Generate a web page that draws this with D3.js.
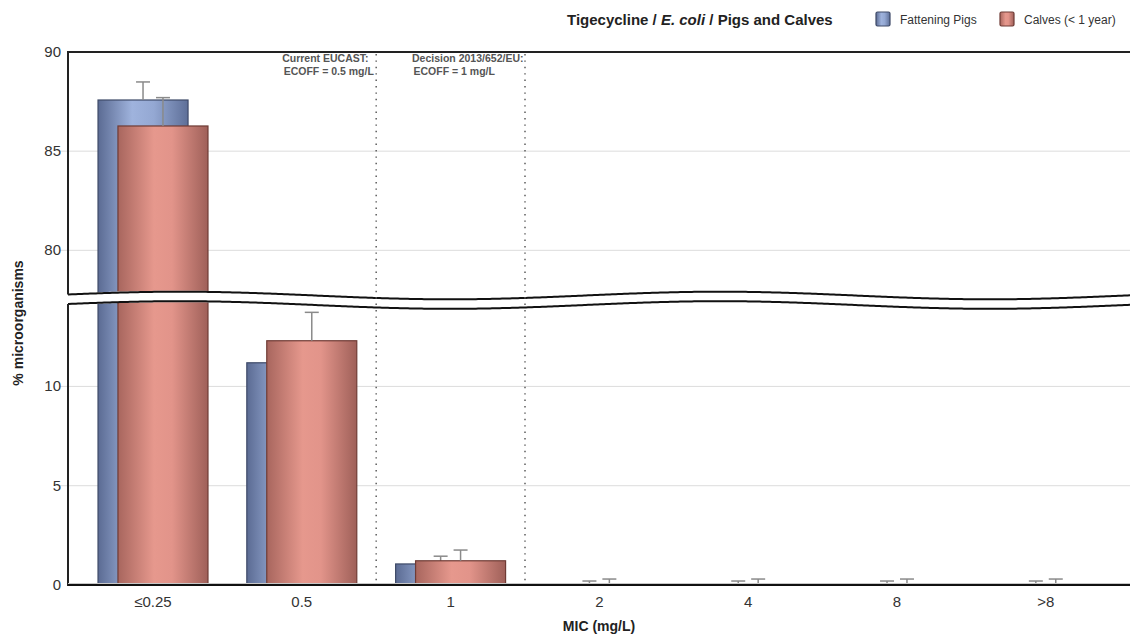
<!DOCTYPE html>
<html><head><meta charset="utf-8">
<script src="https://cdn.jsdelivr.net/npm/d3@7"></script>
<style>body{margin:0;background:#fff;} svg{display:block;font-family:"Liberation Sans",Arial,sans-serif;}</style>
</head><body><svg id="c" width="1130" height="637"></svg>
<script>
// ---- data ----
const categories = ["≤0.25", "0.5", "1", "2", "4", "8", ">8"];
const pigs = [87.58, 11.19, 1.06, 0.05, 0.05, 0.05, 0.05];
const pigsErrTop = [88.49, 11.9, 1.45, 0.2, 0.2, 0.2, 0.2];
const calves = [86.27, 12.30, 1.22, 0.05, 0.05, 0.05, 0.05];
const calvesErrTop = [87.70, 13.73, 1.76, 0.3, 0.3, 0.3, 0.3];
const upperTicks = [80, 85, 90];
const lowerTicks = [0, 5, 10];
const upperDomain = [78, 90];
const lowerDomain = [0, 14.1];
const seriesNames = ["Fattening Pigs", "Calves (< 1 year)"];
const ecoffAfter = ["0.5", "1"];
const ecoffText = [["Current EUCAST:", "ECOFF = 0.5 mg/L"], ["Decision 2013/652/EU:", "ECOFF = 1 mg/L"]];
const titleParts = [["Tigecycline / ", "normal"], ["E. coli", "italic"], [" / Pigs and Calves", "normal"]];
const xTitle = "MIC (mg/L)";
const yTitle = "% microorganisms";

// ---- layout ----
const svg = d3.select("#c");
const L = 68, R = 1130, T = 52, B = 585;
const x = d3.scaleBand().domain(categories).range([78.6, 1120.2]).paddingInner(0).paddingOuter(0);
const yU = d3.scaleLinear().domain(upperDomain).range([290, T]);
const yL = d3.scaleLinear().domain(lowerDomain).range([B, 305]);
const bw = x.bandwidth();
const barW = bw * 0.605, off = bw * 0.067;
const yv = v => v > lowerDomain[1] ? yU(v) : yL(v);

const defs = svg.append("defs");
function grad(id, stops) {
  const g = defs.append("linearGradient").attr("id", id).attr("x1", 0).attr("x2", 1).attr("y1", 0).attr("y2", 0);
  stops.forEach(s => g.append("stop").attr("offset", s[0]).attr("stop-color", s[1]));
}
grad("gPig", [[0, "#5b6b93"], [0.38, "#9fb3dd"], [0.62, "#94a8d3"], [1, "#5e6f98"]]);
grad("gCalf", [[0, "#a8665e"], [0.4, "#e6988d"], [0.6, "#e2948a"], [1, "#9f6059"]]);
const fills = ["url(#gPig)", "url(#gCalf)"], strokes = ["#3e4a68", "#6f3b35"];

// gridlines + short ticks
const grid = svg.append("g");
upperTicks.filter(t => t < 90).forEach(t => grid.append("line").attr("x1", 60).attr("x2", R).attr("y1", yU(t)).attr("y2", yU(t)).attr("stroke", "#dcdcdc"));
lowerTicks.filter(t => t > 0).forEach(t => grid.append("line").attr("x1", 60).attr("x2", R).attr("y1", yL(t)).attr("y2", yL(t)).attr("stroke", "#dcdcdc"));

// tick labels
const tl = svg.append("g").attr("font-size", 15).attr("fill", "#333").attr("text-anchor", "end");
upperTicks.forEach(t => tl.append("text").attr("x", 61).attr("y", yU(t) + 5).text(t));
lowerTicks.forEach(t => tl.append("text").attr("x", 61).attr("y", yL(t) + 5).text(t));

// bars
const series = [[pigs, pigsErrTop, -off], [calves, calvesErrTop, off]];
series.forEach((s, si) => {
  const [vals, errs, o] = s;
  const g = svg.append("g");
  categories.forEach((c, i) => {
    const cx = x(c) + bw / 2 + o;
    const top = yv(vals[i]);
    g.append("rect").attr("x", cx - barW / 2).attr("y", top).attr("width", barW).attr("height", Math.max(0.5, yL(0) - top))
      .attr("fill", fills[si]).attr("stroke", strokes[si]).attr("stroke-width", 1.2);
    const et = yv(errs[i]);
    g.append("line").attr("x1", cx).attr("x2", cx).attr("y1", top).attr("y2", et).attr("stroke", "#8a8a8a").attr("stroke-width", 1.5);
    g.append("line").attr("x1", cx - 7).attr("x2", cx + 7).attr("y1", et).attr("y2", et).attr("stroke", "#8a8a8a").attr("stroke-width", 1.5);
  });
});

// axis break
const wave = xx => 295.5 - 3.8 * Math.cos(2 * Math.PI * (xx - 180) / 540);
const gap = 9.5;
const xs = d3.range(L, R + 1, 4).concat([R]);
const band = d3.area().x(d => d).y0(d => wave(d) - 1).y1(d => wave(d) + gap + 1).curve(d3.curveBasis);
svg.append("path").datum(xs).attr("d", band).attr("fill", "#fff");
const wl = d3.line().x(d => d).curve(d3.curveBasis);
svg.append("path").datum(xs).attr("d", wl.y(d => wave(d))).attr("fill", "none").attr("stroke", "#111").attr("stroke-width", 2);
svg.append("path").datum(xs).attr("d", d3.line().x(d => d).y(d => wave(d) + gap).curve(d3.curveBasis)).attr("fill", "none").attr("stroke", "#111").attr("stroke-width", 2);

// frame
svg.append("line").attr("x1", L).attr("x2", R).attr("y1", T).attr("y2", T).attr("stroke", "#222").attr("stroke-width", 2);
svg.append("line").attr("x1", L).attr("x2", L).attr("y1", T - 1).attr("y2", wave(L)).attr("stroke", "#222").attr("stroke-width", 2);
svg.append("line").attr("x1", L).attr("x2", L).attr("y1", wave(L) + gap).attr("y2", B + 1).attr("stroke", "#222").attr("stroke-width", 2);
svg.append("line").attr("x1", L).attr("x2", R).attr("y1", B - 1.5).attr("y2", B - 1.5).attr("stroke", "#c8c8c8").attr("stroke-width", 1);
svg.append("line").attr("x1", L).attr("x2", R).attr("y1", B).attr("y2", B).attr("stroke", "#111").attr("stroke-width", 2);

// ECOFF lines and notes
const noteDx = [-94, -113];
ecoffAfter.forEach((c, i) => {
  const xb = x(c) + bw;
  svg.append("line").attr("x1", xb).attr("x2", xb).attr("y1", T + 2).attr("y2", B - 2)
    .attr("stroke", "#666").attr("stroke-width", 1.6).attr("stroke-dasharray", "1.4,5").attr("stroke-linecap", "butt");
  const t = svg.append("g").attr("font-size", 10.5).attr("font-weight", "bold").attr("fill", "#555");
  ecoffText[i].forEach((line, j) => t.append("text").attr("x", xb + noteDx[i] + (j ? 1.5 : 0)).attr("y", 62 + j * 12.5).text(line));
});

// x labels
const xl = svg.append("g").attr("font-size", 15).attr("fill", "#333").attr("text-anchor", "middle");
categories.forEach(c => xl.append("text").attr("x", x(c) + bw / 2).attr("y", 607).text(c));

// axis titles
svg.append("text").attr("x", (L + R) / 2).attr("y", 631).attr("text-anchor", "middle").attr("font-size", 14).attr("font-weight", "bold").attr("fill", "#222").text(xTitle);
svg.append("text").attr("transform", "translate(23,323) rotate(-90)").attr("text-anchor", "middle").attr("font-size", 14).attr("font-weight", "bold").attr("fill", "#222").text(yTitle);

// title
const tt = svg.append("text").attr("x", 567).attr("y", 25).attr("font-size", 15).attr("font-weight", "bold").attr("fill", "#222");
titleParts.forEach(p => tt.append("tspan").attr("font-style", p[1]).text(p[0]));

// legend
const legX = [876, 1000];
seriesNames.forEach((n, i) => {
  svg.append("rect").attr("x", legX[i]).attr("y", 12).attr("width", 14).attr("height", 14).attr("rx", 1.5)
    .attr("fill", fills[i]).attr("stroke", strokes[i]).attr("stroke-width", 1.2);
  svg.append("text").attr("x", legX[i] + 24).attr("y", 24).attr("font-size", 12).attr("fill", "#333").text(n);
});
</script></body></html>
